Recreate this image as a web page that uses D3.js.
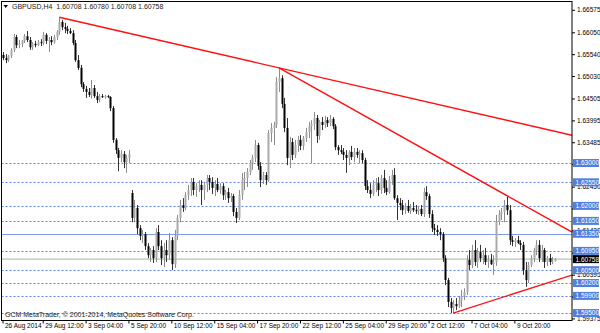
<!DOCTYPE html>
<html><head><meta charset="utf-8">
<script src="https://cdn.jsdelivr.net/npm/d3@7"></script>
<style>body{margin:0;background:#fff}svg{display:block}text{font-family:"Liberation Sans",Arial,sans-serif}</style>
</head><body><svg id="c" width="600" height="333"></svg>
<script>
// GBPUSD H4 candles (open, high, low, close)
const opens = [1.6552,1.6545,1.6540,1.6550,1.6564,1.6594,1.6575,1.6578,1.6585,1.6596,
1.6587,1.6570,1.6578,1.6575,1.6582,1.6580,1.6599,1.6585,1.6587,1.6582,
1.6594,1.6606,1.6629,1.6617,1.6613,1.6608,1.6603,1.6580,1.6540,1.6522,
1.6484,1.6473,1.6466,1.6459,1.6475,1.6456,1.6447,1.6456,1.6454,1.6456,
1.6454,1.6428,1.6354,1.6330,1.6312,1.6321,1.6302,1.6312,1.6230,1.6172,
1.6195,1.6148,1.6130,1.6134,1.6106,1.6085,1.6097,1.6078,1.6139,1.6106,
1.6078,1.6097,1.6085,1.6120,1.6064,1.6130,1.6172,1.6202,1.6195,1.6225,
1.6237,1.6256,1.6237,1.6246,1.6249,1.6237,1.6249,1.6265,1.6256,1.6242,
1.6251,1.6237,1.6246,1.6225,1.6232,1.6218,1.6223,1.6186,1.6172,1.6225,
1.6260,1.6265,1.6279,1.6300,1.6312,1.6342,1.6293,1.6260,1.6272,1.6260,
1.6370,1.6382,1.6389,1.6489,1.6498,1.6438,1.6382,1.6312,1.6349,1.6319,
1.6342,1.6354,1.6340,1.6358,1.6372,1.6386,1.6391,1.6405,1.6363,1.6396,
1.6389,1.6400,1.6393,1.6403,1.6386,1.6337,1.6330,1.6326,1.6319,1.6312,
1.6326,1.6314,1.6326,1.6319,1.6323,1.6307,1.6246,1.6237,1.6228,1.6249,
1.6253,1.6237,1.6265,1.6242,1.6232,1.6260,1.6272,1.6218,1.6207,1.6202,
1.6190,1.6200,1.6188,1.6195,1.6190,1.6188,1.6193,1.6181,1.6232,1.6223,
1.6181,1.6148,1.6144,1.6139,1.6134,1.6078,1.6027,1.5976,1.5962,1.5971,
1.5966,1.5980,1.5990,1.5999,1.6074,1.6062,1.6097,1.6069,1.6092,1.6078,
1.6085,1.6069,1.6074,1.6064,1.6069,1.6162,1.6181,1.6186,1.6202,1.6190,
1.6120,1.6116,1.6120,1.6113,1.6109,1.6050,1.6027,1.6062,1.6078,1.6097,
1.6109,1.6078,1.6097,1.6069,1.6078,1.6069,1.60708];
const highs = [1.6559,1.6554,1.6552,1.6568,1.6601,1.6599,1.6587,1.6587,1.6601,1.6608,
1.6594,1.6582,1.6585,1.6587,1.6589,1.6606,1.6603,1.6594,1.6596,1.6599,
1.6610,1.6640,1.6634,1.6627,1.6620,1.6615,1.6610,1.6587,1.6552,1.6529,
1.6489,1.6480,1.6475,1.6494,1.6482,1.6466,1.6461,1.6461,1.6459,1.6459,
1.6456,1.6433,1.6358,1.6335,1.6330,1.6328,1.6319,1.6330,1.6237,1.6214,
1.6202,1.6155,1.6144,1.6139,1.6113,1.6102,1.6106,1.6148,1.6155,1.6120,
1.6113,1.6120,1.6137,1.6127,1.6144,1.6179,1.6214,1.6218,1.6232,1.6249,
1.6265,1.6265,1.6253,1.6260,1.6260,1.6256,1.6272,1.6272,1.6267,1.6260,
1.6265,1.6253,1.6253,1.6237,1.6242,1.6230,1.6228,1.6195,1.6237,1.6277,
1.6279,1.6288,1.6307,1.6319,1.6354,1.6347,1.6302,1.6279,1.6279,1.6377,
1.6393,1.6396,1.6501,1.6522,1.6505,1.6452,1.6405,1.6361,1.6358,1.6354,
1.6363,1.6365,1.6363,1.6382,1.6396,1.6400,1.6419,1.6412,1.6400,1.6407,
1.6410,1.6407,1.6412,1.6407,1.6391,1.6342,1.6342,1.6335,1.6330,1.6330,
1.6340,1.6335,1.6335,1.6330,1.6330,1.6312,1.6260,1.6253,1.6260,1.6265,
1.6267,1.6272,1.6284,1.6260,1.6270,1.6284,1.6288,1.6225,1.6218,1.6214,
1.6207,1.6214,1.6204,1.6209,1.6202,1.6200,1.6202,1.6242,1.6246,1.6228,
1.6190,1.6158,1.6155,1.6148,1.6139,1.6085,1.6032,1.5985,1.5980,1.5985,
1.5990,1.6004,1.6008,1.6085,1.6097,1.6109,1.6120,1.6102,1.6109,1.6097,
1.6102,1.6085,1.6088,1.6085,1.6179,1.6190,1.6195,1.6214,1.6221,1.6202,
1.6130,1.6125,1.6130,1.6120,1.6116,1.6069,1.6069,1.6085,1.6102,1.6120,
1.6120,1.6109,1.6102,1.6083,1.6088,1.6081,1.60780];
const lows = [1.6540,1.6533,1.6536,1.6545,1.6559,1.6568,1.6568,1.6570,1.6580,1.6582,
1.6564,1.6564,1.6570,1.6573,1.6573,1.6575,1.6578,1.6559,1.6575,1.6578,
1.6587,1.6599,1.6610,1.6603,1.6601,1.6601,1.6575,1.6536,1.6517,1.6477,
1.6466,1.6452,1.6454,1.6450,1.6452,1.6440,1.6442,1.6452,1.6450,1.6452,
1.6421,1.6347,1.6321,1.6281,1.6302,1.6288,1.6277,1.6300,1.6162,1.6162,
1.6134,1.6120,1.6113,1.6097,1.6078,1.6069,1.6067,1.6069,1.6097,1.6062,
1.6057,1.6069,1.6074,1.6050,1.6055,1.6120,1.6162,1.6186,1.6190,1.6214,
1.6223,1.6225,1.6221,1.6232,1.6202,1.6214,1.6232,1.6237,1.6228,1.6223,
1.6232,1.6228,1.6214,1.6214,1.6207,1.6209,1.6176,1.6160,1.6167,1.6214,
1.6237,1.6244,1.6272,1.6284,1.6302,1.6284,1.6244,1.6251,1.6249,1.6256,
1.6349,1.6342,1.6382,1.6466,1.6428,1.6372,1.6295,1.6288,1.6307,1.6312,
1.6326,1.6330,1.6330,1.6349,1.6358,1.6300,1.6377,1.6347,1.6354,1.6377,
1.6382,1.6384,1.6386,1.6379,1.6330,1.6319,1.6321,1.6307,1.6277,1.6295,
1.6307,1.6302,1.6312,1.6300,1.6300,1.6237,1.6230,1.6218,1.6223,1.6232,
1.6223,1.6228,1.6230,1.6225,1.6228,1.6249,1.6214,1.6167,1.6190,1.6179,
1.6181,1.6184,1.6181,1.6186,1.6181,1.6179,1.6176,1.6174,1.6214,1.6172,
1.6139,1.6132,1.6130,1.6120,1.6069,1.6015,1.5964,1.5950,1.5950,1.5957,
1.5962,1.5964,1.5980,1.5992,1.6050,1.6055,1.6060,1.6055,1.6069,1.6064,
1.6062,1.6055,1.6062,1.6039,1.6060,1.6155,1.6167,1.6162,1.6179,1.6109,
1.6106,1.6104,1.6111,1.6097,1.6039,1.6011,1.6020,1.6057,1.6069,1.6085,
1.6069,1.6069,1.6055,1.6060,1.6062,1.6064,1.60708];
const closes = [1.6545,1.6540,1.6550,1.6564,1.6594,1.6575,1.6578,1.6585,1.6596,1.6587,
1.6570,1.6578,1.6575,1.6582,1.6580,1.6599,1.6585,1.6587,1.6582,1.6594,
1.6606,1.6629,1.6617,1.6613,1.6608,1.6603,1.6580,1.6540,1.6522,1.6484,
1.6473,1.6466,1.6459,1.6475,1.6456,1.6447,1.6456,1.6454,1.6456,1.6454,
1.6428,1.6354,1.6330,1.6312,1.6321,1.6302,1.6312,1.6321,1.6172,1.6195,
1.6148,1.6130,1.6134,1.6106,1.6085,1.6097,1.6078,1.6139,1.6106,1.6078,
1.6097,1.6085,1.6120,1.6064,1.6130,1.6172,1.6202,1.6195,1.6225,1.6237,
1.6256,1.6237,1.6246,1.6249,1.6237,1.6249,1.6265,1.6256,1.6242,1.6251,
1.6237,1.6246,1.6225,1.6232,1.6218,1.6223,1.6186,1.6172,1.6225,1.6260,
1.6265,1.6279,1.6300,1.6312,1.6342,1.6293,1.6260,1.6272,1.6260,1.6370,
1.6382,1.6389,1.6489,1.6498,1.6438,1.6382,1.6312,1.6349,1.6319,1.6342,
1.6354,1.6340,1.6358,1.6372,1.6386,1.6391,1.6405,1.6363,1.6396,1.6389,
1.6400,1.6393,1.6403,1.6386,1.6337,1.6330,1.6326,1.6319,1.6312,1.6326,
1.6314,1.6326,1.6319,1.6323,1.6307,1.6246,1.6237,1.6228,1.6249,1.6253,
1.6237,1.6265,1.6242,1.6232,1.6260,1.6272,1.6218,1.6207,1.6202,1.6190,
1.6200,1.6188,1.6195,1.6190,1.6188,1.6193,1.6181,1.6232,1.6223,1.6181,
1.6148,1.6144,1.6139,1.6134,1.6078,1.6027,1.5976,1.5962,1.5971,1.5966,
1.5980,1.5990,1.5999,1.6074,1.6062,1.6097,1.6069,1.6092,1.6078,1.6085,
1.6069,1.6074,1.6064,1.6069,1.6162,1.6181,1.6186,1.6202,1.6190,1.6120,
1.6116,1.6120,1.6113,1.6109,1.6050,1.6027,1.6062,1.6078,1.6097,1.6109,
1.6078,1.6097,1.6069,1.6078,1.6069,1.6071,1.60758];

const xTickBars = [0,15,31,47,63,79,95,111,127,143,159,175,191];
const xTickLabels = ["26 Aug 2014","29 Aug 12:00","3 Sep 04:00","5 Sep 20:00","10 Sep 12:00","15 Sep 04:00","17 Sep 20:00","22 Sep 12:00","25 Sep 04:00","29 Sep 20:00","2 Oct 12:00","7 Oct 04:00","9 Oct 20:00"];
const yTicks = [1.66575,1.66050,1.65540,1.65030,1.64505,1.63995,1.63485,1.62975,1.62450,1.61940,1.61430,1.60905,1.60395,1.59885,1.59375];
const dottedLevels = [1.63000,1.62550,1.62000,1.61650,1.60950,1.60500,1.60200,1.59900,1.59500];
const solidLevels = [1.61350];
const currentPrice = 1.60758;
// trend lines: [bar1, price1, bar2, price2] extended to the right edge
const trendLines = [[21,1.6640,103,1.6522],[103,1.6522,188,1.6224],[168,1.5950,206,1.6026]];
const titleText = "GBPUSD,H4  1.60708 1.60780 1.60708 1.60758";
const copyrightText = "GCM MetaTrader, \u00A9 2001-2014, MetaQuotes Software Corp.";

const svg = d3.select("#c");
const L = 1.5, R = 572, T = 1.5, B = 320.5;
const x = d3.scaleLinear().domain([0, 206]).range([3, 3 + 206 * 2.68]);
const y = d3.scaleLinear().domain([1.59375, 1.66575]).range([318.4, 9.8]);
const allLevels = dottedLevels.concat(solidLevels);

svg.append("defs").append("clipPath").attr("id","pc").append("rect")
  .attr("x", L).attr("y", T).attr("width", R - L).attr("height", B - T);
const plot = svg.append("g").attr("clip-path","url(#pc)");

// levels
plot.selectAll(".lvl").data(dottedLevels).join("line")
  .attr("x1", L).attr("x2", R).attr("y1", d => Math.round(y(d)) + 0.5).attr("y2", d => Math.round(y(d)) + 0.5)
  .attr("stroke", "#5d84e6").attr("stroke-width", 1).attr("stroke-dasharray", "2,2");
plot.selectAll(".slvl").data(solidLevels).join("line")
  .attr("x1", L).attr("x2", R).attr("y1", d => Math.round(y(d)) + 0.5).attr("y2", d => Math.round(y(d)) + 0.5)
  .attr("stroke", "#7d9cee").attr("stroke-width", 1);
plot.append("line").attr("x1", L).attr("x2", R)
  .attr("y1", y(currentPrice)).attr("y2", y(currentPrice))
  .attr("stroke", "#d0d0d0").attr("stroke-width", 1.6);

// candles
const bars = d3.range(opens.length).map(i => ({i, o: opens[i], h: highs[i], l: lows[i], c: closes[i]}));
const cg = plot.append("g");
cg.selectAll(".wick").data(bars).join("line")
  .attr("x1", d => Math.round(x(d.i)) + 0.5).attr("x2", d => Math.round(x(d.i)) + 0.5)
  .attr("y1", d => y(d.h)).attr("y2", d => y(d.l))
  .attr("stroke", d => d.c >= d.o ? "#8c8c8c" : "#333").attr("stroke-width", 1);
cg.selectAll(".body").data(bars).join("rect")
  .attr("x", d => Math.round(x(d.i)) - 0.5).attr("width", 2)
  .attr("y", d => y(Math.max(d.o, d.c)))
  .attr("height", d => Math.max(1, Math.abs(y(d.o) - y(d.c))))
  .attr("fill", d => d.c >= d.o ? "#a9a9a9" : "#000");

// trend lines
plot.selectAll(".tl").data(trendLines).join("line")
  .attr("x1", d => x(d[0])).attr("y1", d => y(d[1]))
  .attr("x2", R).attr("y2", d => {
    const bi = x.invert(R);
    return y(d[1] + (d[3] - d[1]) * (bi - d[0]) / (d[2] - d[0]));
  })
  .attr("stroke", "#ff1010").attr("stroke-width", 1.4);

// frame
svg.append("rect").attr("x", L).attr("y", T).attr("width", R - L).attr("height", B - T)
  .attr("fill", "none").attr("stroke", "#000").attr("stroke-width", 1);

// right axis (labels fully covered by level boxes are not drawn)
const covered = v => allLevels.concat([currentPrice]).some(l => Math.abs(y(l) - y(v)) < 3);
const ya = svg.append("g").attr("transform", `translate(${R},0)`)
  .call(d3.axisRight(y).tickValues(yTicks).tickFormat(v => covered(v) ? "" : d3.format(".5f")(v)).tickSize(3).tickPadding(2));
ya.select(".domain").remove();
ya.selectAll("text").attr("font-size", 6.5).attr("font-family", "Liberation Sans, Arial").attr("fill", "#000");

// bottom axis
const xa = svg.append("g").attr("transform", `translate(0,${B})`)
  .call(d3.axisBottom(x).tickValues(xTickBars).tickFormat((d, k) => xTickLabels[k]).tickSize(3));
xa.select(".domain").remove();
xa.selectAll(".tick line").attr("transform", "translate(-0.5,0)");
xa.selectAll("text").attr("font-size", 6.5).attr("font-family", "Liberation Sans, Arial")
  .attr("text-anchor", "start").attr("dx", 1.5).attr("dy", "0.3em").attr("fill", "#000");

// level labels
const lab = svg.append("g");
lab.selectAll("rect").data(allLevels).join("rect")
  .attr("x", R + 1).attr("width", 26).attr("y", d => y(d) - 4).attr("height", 8)
  .attr("fill", "#4f7fe0");
lab.selectAll("text").data(allLevels).join("text")
  .attr("x", R + 3.5).attr("y", d => y(d) + 2.4).text(d => d3.format(".5f")(d))
  .attr("font-size", 6.5).attr("fill", "#fff");
lab.append("rect").attr("x", R + 1).attr("width", 26).attr("y", y(currentPrice) - 4).attr("height", 8).attr("fill", "#000");
lab.append("text").attr("x", R + 3.5).attr("y", y(currentPrice) + 2.4).text(d3.format(".5f")(currentPrice))
  .attr("font-size", 6.5).attr("fill", "#fff");

// title
svg.append("path").attr("d", "M3.5,5 L8,5 L5.75,8 Z").attr("fill", "#000");
svg.append("text").attr("x", 12).attr("y", 9).text(titleText).attr("font-size", 7).attr("fill", "#222")
  .attr("xml:space", "preserve");
svg.append("text").attr("x", 5).attr("y", 317).text(copyrightText).attr("font-size", 7).attr("fill", "#222");
</script></body></html>
